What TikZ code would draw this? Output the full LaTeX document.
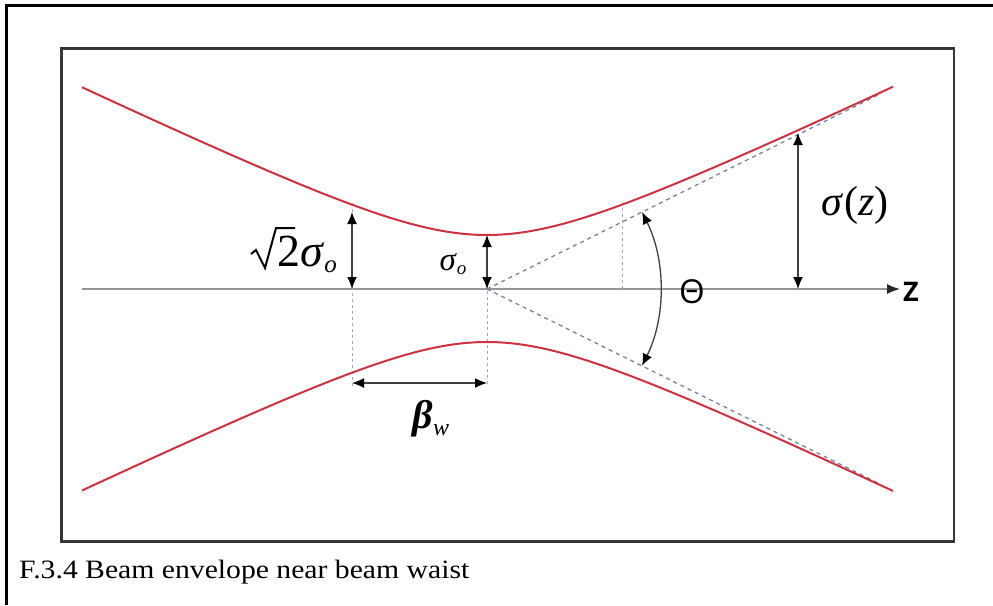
\documentclass[tikz,border=0pt]{standalone}
\usepackage{fontspec}
\setmainfont{Liberation Serif}
\newfontfamily\sansf{Open Sans}
\newfontfamily\capfont[FakeStretch=1.12]{Liberation Serif}
\usetikzlibrary{arrows.meta}
\definecolor{beamred}{RGB}{205,50,65}
\definecolor{axisgray}{RGB}{150,150,150}
\definecolor{asym}{RGB}{120,128,165}
\definecolor{dotg}{RGB}{165,168,180}
\definecolor{framegray}{RGB}{55,55,55}
\begin{document}
\begin{tikzpicture}[x=1pt,y=-1pt,
  beam/.style={draw=beamred,line width=2pt},
  dim/.style={draw=black!75,line width=1.3pt,{Latex[length=12pt,width=10pt,black]}-{Latex[length=12pt,width=10pt,black]}},
  guide/.style={draw=dotg,line width=1pt,dash pattern=on 3pt off 3pt},
  asymline/.style={draw=asym,line width=1.3pt,dash pattern=on 4pt off 4pt},
  lab/.style={inner sep=0pt,font=\fontsize{42}{42}\selectfont}]
\useasboundingbox (0,0) rectangle (993,605);
% outer cell border
\draw[line width=3pt] (6.5,605) -- (6.5,5.3) -- (993,5.3);
% inner frame
\draw[framegray,line width=2.5pt] (61.5,48.5) rectangle (954,541.5);
% axis
\coordinate (ax0) at (82,289);
\coordinate (ax1) at (900,289);
\draw[axisgray,line width=1.5pt,-{Latex[length=13pt,width=10pt,black!85]}] (ax0) -- (ax1);
\node[anchor=west,inner sep=0pt,font=\sansf\bfseries\fontsize{27}{27}\selectfont] (zl) at (903,292) {Z};
% waist point
\coordinate (w) at (487,289);
% asymptotes
\coordinate (au) at (880,94);
\coordinate (ad) at (880,484);
\draw[asymline] (w) -- (au);
\draw[asymline] (w) -- (ad);
% guide lines
\coordinate (g1t) at (352,203); \coordinate (g1b) at (352,386);
\coordinate (g2t) at (487,237); \coordinate (g2b) at (487,386);
\coordinate (g3t) at (622,202); \coordinate (g3b) at (622,289);
\draw[guide] (g1t) -- (g1b);
\draw[guide] (g2t) -- (g2b);
\draw[guide] (g3t) -- (g3b);
% beam envelope
\draw[beam,domain=-405:406,samples=120,smooth] plot ({487+\x},{289-10*sqrt(5.4*5.4+(0.048*\x)*(0.048*\x))});
\draw[beam,domain=-405:406,samples=120,smooth] plot ({487+\x},{289+10*sqrt(5.3*5.3+(0.048*\x)*(0.048*\x))});
% dimension arrows
\coordinate (a1t) at (352,212); \coordinate (a1b) at (352,289);
\coordinate (a2t) at (487,235); \coordinate (a2b) at (487,289);
\coordinate (a3t) at (798,133); \coordinate (a3b) at (798,289);
\coordinate (a4l) at (352,383); \coordinate (a4r) at (487,383);
\draw[dim] (a1t) -- (a1b);
\draw[dim] (a2t) -- (a2b);
\draw[dim] (a3t) -- (a3b);
\draw[dim] (a4l) -- (a4r);
% theta arc about the waist
\coordinate (thA) at (642,212);
\draw[dim] (thA) arc[start angle=-26.4,end angle=26.4,radius=173];
% labels
\node[anchor=base west,inner sep=0pt,font=\fontsize{46}{46}\selectfont] (l1) at (277,266) {2\textit{σ}\raisebox{-0.3ex}{\fontsize{25}{25}\selectfont\textit{o}}};
% radical sign of the sqrt(2) label
\coordinate (r0) at (251,254); \coordinate (r1) at (256,250);
\coordinate (r2) at (265,268); \coordinate (r3) at (276,228);
\coordinate (r4) at (295,228);
\draw[line width=2pt,line join=miter] (r0) -- (r1) -- (r2) -- (r3) -- (r4);
\node[lab,font=\fontsize{33}{33}\selectfont] (l2) at (453,264) {\textit{σ}\raisebox{-0.3ex}{\fontsize{19}{19}\selectfont\textit{o}}};
\node[lab] (l3) at (855,205) {\textit{σ}\kern1pt(\textit{z})};
\node[lab,font=\sansf\fontsize{33}{33}\selectfont] (l4) at (692,292) {Θ};
\node[lab,font=\fontsize{40}{40}\selectfont] (l5) at (431,419) {\textit{\textbf{β}}\raisebox{-0.35ex}{\fontsize{24}{24}\selectfont\textit{w}}};
\node[anchor=base west,inner sep=0pt,font=\capfont\fontsize{26.5}{26.5}\selectfont] (cap) at (19,578) {F.3.4 Beam envelope near beam waist};
\end{tikzpicture}
\end{document}
